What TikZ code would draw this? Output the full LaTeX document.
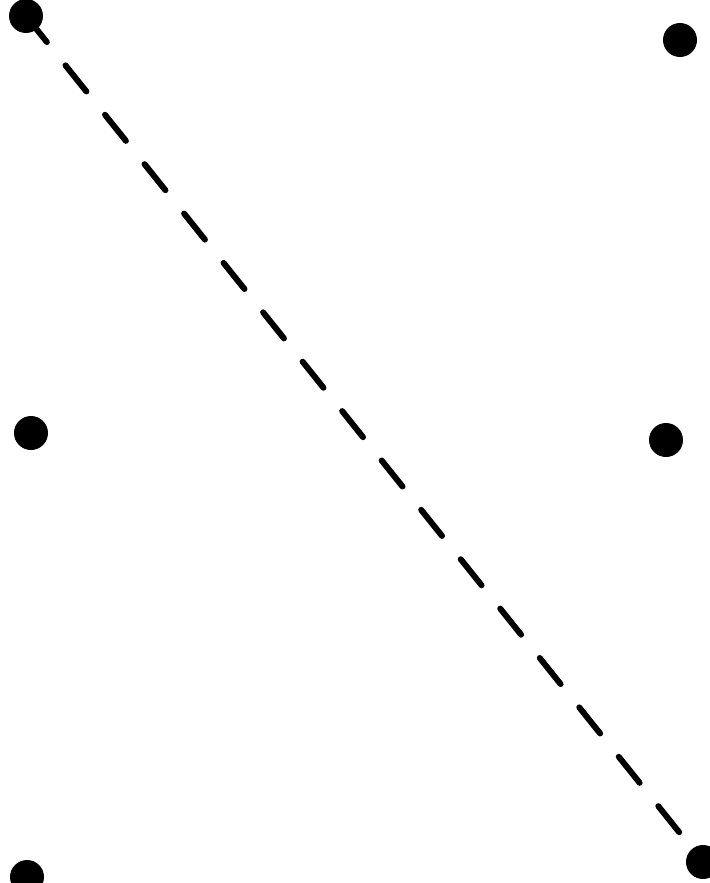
\documentclass[tikz,border=0pt]{standalone}
\begin{document}
\begin{tikzpicture}[x=0.02cm,y=-0.02cm,
  dot/.style={circle,fill=black,inner sep=0pt,minimum size=0.68cm},
  link/.style={line width=3.4pt,line cap=round,dash pattern=on 19pt off 17pt}]
\useasboundingbox (0,0) rectangle (710,883);
\clip (0,0) rectangle (710,883);
\node[dot] (tl) at (26,16) {};
\node[dot] (tr) at (680,40) {};
\node[dot] (ml) at (31,433) {};
\node[dot] (mr) at (666,440) {};
\node[dot] (bl) at (27,877) {};
\node[dot] (br) at (703,862) {};
\draw[link] (tl.center) -- (br.center);
\end{tikzpicture}
\end{document}
